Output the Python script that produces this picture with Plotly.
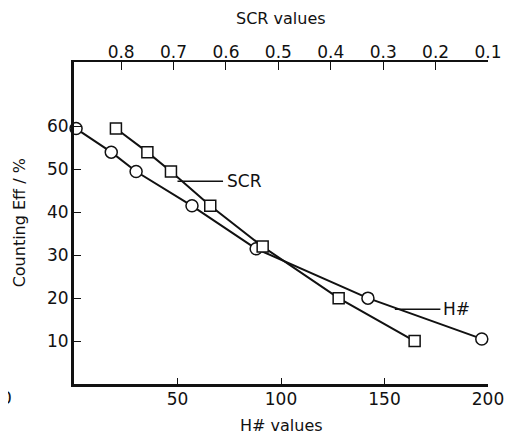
import plotly.graph_objects as go

# H# series (bottom axis, circles)
h_values = [1, 18, 30, 57, 88, 142, 197]
h_eff = [59.5, 54, 49.5, 41.5, 31.5, 20, 10.5]

# SCR series (top axis, squares)
scr_values = [0.81, 0.75, 0.705, 0.63, 0.53, 0.385, 0.24]
scr_eff = [59.5, 54, 49.5, 41.5, 32, 20, 10]

h_ticks = [50, 100, 150, 200]
scr_ticks = [0.8, 0.7, 0.6, 0.5, 0.4, 0.3, 0.2, 0.1]
scr_ticktext = ["0.8", "0.7", "0.6", "0.5", "0.4", "0.3", "0.2", "0.1"]
eff_ticks = [10, 20, 30, 40, 50, 60]

FONT = "DejaVu Sans"
BLACK = "#111111"

fig = go.Figure()

fig.add_trace(go.Scatter(
    x=h_values, y=h_eff, mode="lines+markers", xaxis="x", yaxis="y",
    line=dict(color=BLACK, width=2),
    marker=dict(symbol="circle", size=12, color="white",
                line=dict(color=BLACK, width=1.5)),
    cliponaxis=False, showlegend=False,
))
fig.add_trace(go.Scatter(
    x=scr_values, y=scr_eff, mode="lines+markers", xaxis="x2", yaxis="y",
    line=dict(color=BLACK, width=2),
    marker=dict(symbol="square", size=11, color="white",
                line=dict(color=BLACK, width=1.5)),
    cliponaxis=False, showlegend=False,
))

# labels with leader lines (data coords on bottom axis)
scr_label = dict(x0=50, x1=72, y=47.2, tx=73)
h_label = dict(x0=155, x1=177, y=17.4, tx=177.5)

shapes = [
    dict(type="line", xref="x", yref="y", x0=scr_label["x0"], x1=scr_label["x1"],
         y0=scr_label["y"], y1=scr_label["y"], line=dict(color=BLACK, width=1.5)),
    dict(type="line", xref="x", yref="y", x0=h_label["x0"], x1=h_label["x1"],
         y0=h_label["y"], y1=h_label["y"], line=dict(color=BLACK, width=1.5)),
]

annotations = [
    dict(x=scr_label["tx"], y=scr_label["y"], xref="x", yref="y", text="SCR",
         showarrow=False, xanchor="left", yanchor="middle",
         font=dict(family=FONT, size=17, color=BLACK)),
    dict(x=h_label["tx"], y=h_label["y"], xref="x", yref="y", text="H#",
         showarrow=False, xanchor="left", yanchor="middle",
         font=dict(family=FONT, size=17, color=BLACK)),
    dict(x=0.5, y=1.136, xref="paper", yref="paper", text="SCR values",
         showarrow=False, xanchor="center", yanchor="middle",
         font=dict(family=FONT, size=16, color=BLACK)),
    dict(x=0.5, y=-0.130, xref="paper", yref="paper", text="H# values",
         showarrow=False, xanchor="center", yanchor="middle",
         font=dict(family=FONT, size=16, color=BLACK)),
    dict(x=-0.132, y=0.5, xref="paper", yref="paper", text="Counting Eff / %",
         showarrow=False, xanchor="center", yanchor="middle", textangle=-90,
         font=dict(family=FONT, size=16, color=BLACK)),
    dict(x=-0.146, y=-0.045, xref="paper", yref="paper", text="0",
         showarrow=False, xanchor="right", yanchor="middle",
         font=dict(family=FONT, size=17, color=BLACK)),
]

# page body has an 8px margin: size the figure so the plot area lands
# at page x 74..490, y 62..384
fig.update_layout(
    width=508, height=429,
    margin=dict(l=66, r=26, t=54, b=53, pad=0),
    paper_bgcolor="white", plot_bgcolor="white",
    font=dict(family=FONT, size=17, color=BLACK),
    shapes=shapes, annotations=annotations,
    xaxis=dict(
        range=[0, 200], tickvals=h_ticks, ticks="inside", ticklen=6,
        tickwidth=1.2, tickcolor=BLACK, showline=True, linecolor=BLACK,
        linewidth=2.5, showgrid=False, zeroline=False, mirror=False,
        ticklabelstandoff=-2, tickfont=dict(size=17),
    ),
    xaxis2=dict(
        range=[0.89, 0.1], overlaying="x", side="top", anchor="y",
        tickvals=scr_ticks, ticktext=scr_ticktext, ticks="inside", ticklen=8,
        tickwidth=1.2, tickcolor=BLACK, showline=True, linecolor=BLACK,
        linewidth=2, showgrid=False, zeroline=False,
        ticklabelstandoff=-5, tickfont=dict(size=17),
    ),
    yaxis=dict(
        range=[0, 75], tickvals=eff_ticks, ticks="inside", ticklen=7,
        tickwidth=1.2, tickcolor=BLACK, showline=True, linecolor=BLACK,
        linewidth=3, showgrid=False, zeroline=False,
        ticklabelstandoff=-1, tickfont=dict(size=17),
    ),
)

fig.write_html("out.html")
